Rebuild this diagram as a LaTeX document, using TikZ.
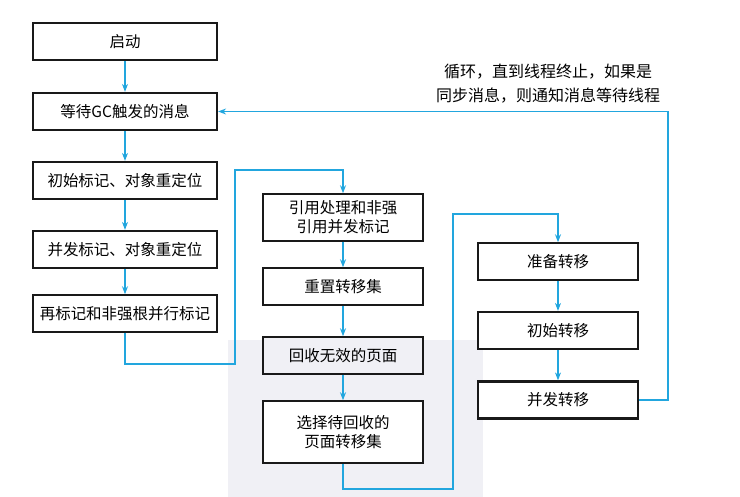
\documentclass[tikz,border=0pt]{standalone}
\usepackage{fontspec}
\setmainfont{Noto Sans CJK SC}
\usetikzlibrary{arrows.meta}
\definecolor{flow}{HTML}{22A6DE}
\definecolor{wm}{HTML}{F0F0F5}
\tikzset{
  box/.style={draw=black!90, fill=white, line width=2.2pt, minimum height=37pt, inner sep=0pt, align=center, font=\fontsize{15.5}{19}\selectfont},
  thinbox/.style={box, line width=1.5pt},
  lbox/.style={minimum width=184pt},
  mbox/.style={minimum width=160pt},
  conn/.style={draw=flow, line width=1.3pt, -{Stealth[length=8pt,width=6pt]}},
  lab/.style={align=center, font=\fontsize{16}{24}\selectfont}
}
\begin{document}
\begin{tikzpicture}[x=1pt,y=-1pt]
\useasboundingbox (0,0) rectangle (740,497);
\fill[wm] (228,340) rectangle (483,497);
% left column
\node[box,lbox] (start) at (125,41.5) {启动};
\node[box,lbox] (wait) at (125,111.5) {等待GC触发的消息};
\node[box,lbox] (init) at (125,180.5) {初始标记、对象重定位};
\node[box,lbox] (conc) at (125,249.5) {并发标记、对象重定位};
\node[thinbox,lbox] (remark) at (125,313.5) {再标记和非强根并行标记};
% middle column
\node[thinbox,mbox,minimum height=47pt] (ref) at (343,217.5) {引用处理和非强\\引用并发标记};
\node[thinbox,mbox] (reset) at (343,286.5) {重置转移集};
\node[thinbox,mbox,fill=wm] (recl) at (343,355.5) {回收无效的页面};
\node[thinbox,mbox,minimum height=62pt] (sel) at (343,432) {选择待回收的\\页面转移集};
% right column
\node[thinbox,mbox] (prep) at (558,261.5) {准备转移};
\node[box,mbox] (it) at (558,330.5) {初始转移};
\node[box,mbox] (ct) at (558,400) {并发转移};
% label
\node[lab] (note) at (548,84) {循环，直到线程终止，如果是\\同步消息，则通知消息等待线程};
% coordinates
\coordinate (a1) at (125,364);
\coordinate (a2) at (235,364);
\coordinate (a3) at (235,170);
\coordinate (a4) at (343,170);
\coordinate (b1) at (343,489);
\coordinate (b2) at (453,489);
\coordinate (b3) at (453,214);
\coordinate (b4) at (558,214);
\coordinate (c1) at (668,400);
\coordinate (c2) at (668,111.5);
% connectors
\draw[conn] (start) -- (wait);
\draw[conn] (wait) -- (init);
\draw[conn] (init) -- (conc);
\draw[conn] (conc) -- (remark);
\draw[conn] (remark.south) -- (a1) -- (a2) -- (a3) -- (a4) -- (ref.north);
\draw[conn] (ref) -- (reset);
\draw[conn] (reset) -- (recl);
\draw[conn] (recl) -- (sel);
\draw[conn] (sel.south) -- (b1) -- (b2) -- (b3) -- (b4) -- (prep.north);
\draw[conn] (prep) -- (it);
\draw[conn] (it) -- (ct);
\draw[conn] (ct.east) -- (c1) -- (c2) -- (wait.east);
\end{tikzpicture}
\end{document}
